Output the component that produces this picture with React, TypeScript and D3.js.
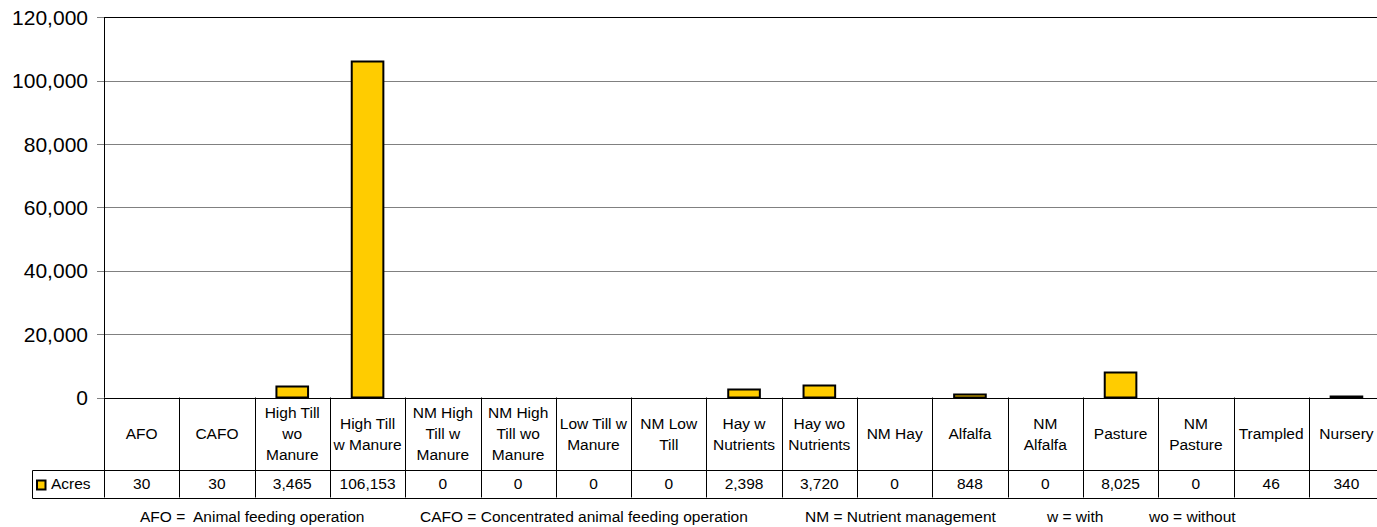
import React from "react";
import * as d3 from "d3";

const categories: string[][] = [
  ["AFO"],
  ["CAFO"],
  ["High Till", "wo", "Manure"],
  ["High Till", "w Manure"],
  ["NM High", "Till w", "Manure"],
  ["NM High", "Till wo", "Manure"],
  ["Low Till w", "Manure"],
  ["NM Low", "Till"],
  ["Hay w", "Nutrients"],
  ["Hay wo", "Nutrients"],
  ["NM Hay"],
  ["Alfalfa"],
  ["NM", "Alfalfa"],
  ["Pasture"],
  ["NM", "Pasture"],
  ["Trampled"],
  ["Nursery"],
];
const acres: number[] = [30, 30, 3465, 106153, 0, 0, 0, 0, 2398, 3720, 0, 848, 0, 8025, 0, 46, 340];
const yTicks: number[] = [0, 20000, 40000, 60000, 80000, 100000, 120000];
const seriesName = "Acres";
const footnotes: { text: string; x: number }[] = [
  { text: "AFO =  Animal feeding operation", x: 140 },
  { text: "CAFO = Concentrated animal feeding operation", x: 420 },
  { text: "NM = Nutrient management", x: 805 },
  { text: "w = with", x: 1047 },
  { text: "wo = without", x: 1149 },
];

const W = 1377;
const H = 527;
const left = 104;
const right = 104 + 17 * 75.3;
const top = 17.3;
const bottom = 397.5;
const headerBottom = 469.5;
const rowBottom = 497.5;
const legendLeft = 32.5;
const font = "Arial, 'Liberation Sans', sans-serif";

export default function App() {
  const x = d3
    .scaleBand<number>()
    .domain(d3.range(categories.length))
    .range([left, right])
    .padding(0);
  const y = d3.scaleLinear().domain([0, 120000]).range([bottom, top]);
  const bw = x.bandwidth();
  const barW = bw * 0.42;
  const fmt = d3.format(",");
  const crisp = (v: number) => Math.round(v) + 0.5;

  return (
    <div style={{ position: "absolute", left: 0, top: 0 }}>
      <svg width={W} height={H} style={{ display: "block", background: "#fff" }}>
        {/* gridlines */}
        {yTicks.map((t) => (
          <line
            key={"g" + t}
            x1={left}
            x2={right}
            y1={crisp(y(t))}
            y2={crisp(y(t))}
            stroke={t === 0 || t === 120000 ? "#000" : "#808080"}
            strokeWidth={1}
          />
        ))}
        {/* y ticks & labels */}
        {yTicks.map((t) => (
          <g key={"t" + t}>
            <line x1={97} x2={left} y1={crisp(y(t))} y2={crisp(y(t))} stroke="#808080" />
            <text
              x={88}
              y={y(t)}
              dy="0.36em"
              textAnchor="end"
              fontFamily={font}
              fontSize={21}
              fill="#000"
            >
              {fmt(t)}
            </text>
          </g>
        ))}
        {/* left axis */}
        <line x1={crisp(left)} x2={crisp(left)} y1={top} y2={bottom} stroke="#000" />
        {/* bars (heights snapped to whole pixels) */}
        {acres.map((v, i) => {
          const cx = (x(i) as number) + bw / 2;
          const h = Math.round(bottom - y(v));
          return (
            <rect
              key={"b" + i}
              x={cx - barW / 2}
              y={bottom - h}
              width={barW}
              height={Math.max(0, h)}
              fill="#FFCC00"
              stroke="#000"
              strokeWidth={2}
            />
          );
        })}
        {/* table */}
        <g stroke="#000" strokeWidth={1}>
          <line x1={left} x2={right} y1={crisp(bottom)} y2={crisp(bottom)} />
          <line x1={legendLeft} x2={right} y1={crisp(headerBottom)} y2={crisp(headerBottom)} />
          <line x1={legendLeft} x2={right} y1={crisp(rowBottom)} y2={crisp(rowBottom)} />
          <line x1={legendLeft} x2={legendLeft} y1={crisp(headerBottom)} y2={crisp(rowBottom)} />
          {d3.range(categories.length + 1).map((k) => {
            const xx = crisp(left + k * bw);
            return <line key={"v" + k} x1={xx} x2={xx} y1={bottom} y2={rowBottom} />;
          })}
        </g>
        {/* header labels */}
        {categories.map((lines, i) => {
          const cx = (x(i) as number) + bw / 2;
          const mid = (bottom + headerBottom) / 2;
          const lh = 21;
          const start = mid - ((lines.length - 1) * lh) / 2;
          return (
            <text
              key={"h" + i}
              textAnchor="middle"
              fontFamily={font}
              fontSize={15.5}
              fill="#000"
            >
              {lines.map((l, j) => (
                <tspan key={j} x={cx} y={start + j * lh} dy="0.36em">
                  {l}
                </tspan>
              ))}
            </text>
          );
        })}
        {/* value row */}
        {acres.map((v, i) => (
          <text
            key={"val" + i}
            x={(x(i) as number) + bw / 2}
            y={(headerBottom + rowBottom) / 2}
            dy="0.36em"
            textAnchor="middle"
            fontFamily={font}
            fontSize={15.5}
            fill="#000"
          >
            {fmt(v)}
          </text>
        ))}
        {/* legend key */}
        <rect x={37} y={480.5} width={8.5} height={9} fill="#FFCC00" stroke="#000" strokeWidth={2} />
        <text x={51} y={(headerBottom + rowBottom) / 2} dy="0.36em" fontFamily={font} fontSize={15.5} fill="#000">
          {seriesName}
        </text>
        {/* footnotes */}
        {footnotes.map((f) => (
          <text key={f.text} x={f.x} y={522} fontFamily={font} fontSize={15.5} fill="#000" style={{ whiteSpace: "pre" }}>
            {f.text}
          </text>
        ))}
      </svg>
    </div>
  );
}
